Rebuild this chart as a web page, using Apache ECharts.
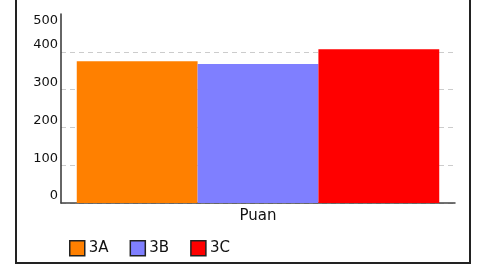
<!DOCTYPE html>
<html>
<head>
<meta charset="utf-8">
<script src="https://cdn.jsdelivr.net/npm/echarts@6/dist/echarts.min.js"></script>
<style>
  html, body { margin: 0; padding: 0; background: #fff; }
  #chart { width: 492px; height: 267px; }
</style>
</head>
<body>
<div id="chart"></div>
<script>
// chart values
var categories = ['Puan'];
var groupNames = ['3A', '3B', '3C'];
var puan3A = [375];
var puan3B = [368];
var puan3C = [407];
var groupColors = ['#ff8000', '#7f7fff', '#ff0000'];
var yMin = 0, yMax = 500, yStep = 100;

var font = 'DejaVu Sans';

var chart = echarts.init(document.getElementById('chart'));

function makeBar(name, data, color) {
	return {
		name: name,
		type: 'bar',
		data: data,
		barGap: 0,
		barCategoryGap: '8%',
		itemStyle: { color: color }
	};
}

var option = {
	animation: false,
	textStyle: { fontFamily: font },
	grid: { left: 61, right: 37, top: 14, bottom: 64 },
	graphic: [{
		type: 'rect',
		shape: { x: 16, y: -5, width: 454, height: 268 },
		style: { fill: 'none', stroke: '#222', lineWidth: 2 }
	}],
	legend: {
		data: groupNames,
		left: 64,
		top: 235,
		icon: 'rect',
		itemWidth: 15,
		itemHeight: 15,
		itemGap: 21,
		itemStyle: { borderColor: '#222', borderWidth: 1.5 },
		textStyle: { fontFamily: font, fontSize: 15, color: '#111', padding: [0, 0, 0, -1] }
	},
	xAxis: {
		type: 'category',
		data: categories,
		axisLine: { lineStyle: { color: '#444', width: 1.5 } },
		axisTick: { show: false },
		axisLabel: { fontFamily: font, fontSize: 15, color: '#111', margin: 6 }
	},
	yAxis: [{
		type: 'value',
		position: 'left',
		min: yMin,
		max: yMax,
		interval: yStep,
		axisLine: { show: true, lineStyle: { color: '#333', width: 1.5 } },
		axisTick: { show: false },
		splitLine: {
			show: true,
			lineStyle: { color: ['#ccc', '#ccc', '#ccc', '#ccc', '#ccc', 'rgba(0,0,0,0)'], type: [5, 4] }
		},
		axisLabel: {
			fontFamily: font, fontSize: 13, color: '#111', margin: 3,
			verticalAlign: 'bottom', lineHeight: 14,
			formatter: function (v) { return v === yMax ? '' : String(v); }
		}
	}, {
		// the top label sits under the axis end in the original
		type: 'value',
		position: 'left',
		offset: 0,
		min: yMin,
		max: yMax,
		interval: yStep,
		axisLine: { show: false },
		axisTick: { show: false },
		splitLine: { show: false },
		axisLabel: {
			fontFamily: font, fontSize: 13, color: '#111', margin: 3,
			verticalAlign: 'top', lineHeight: 14,
			formatter: function (v) { return v === yMax ? String(v) : ''; }
		}
	}],
	series: [
		makeBar(groupNames[0], puan3A, groupColors[0]),
		makeBar(groupNames[1], puan3B, groupColors[1]),
		makeBar(groupNames[2], puan3C, groupColors[2])
	]
};

chart.setOption(option);
</script>
</body>
</html>
